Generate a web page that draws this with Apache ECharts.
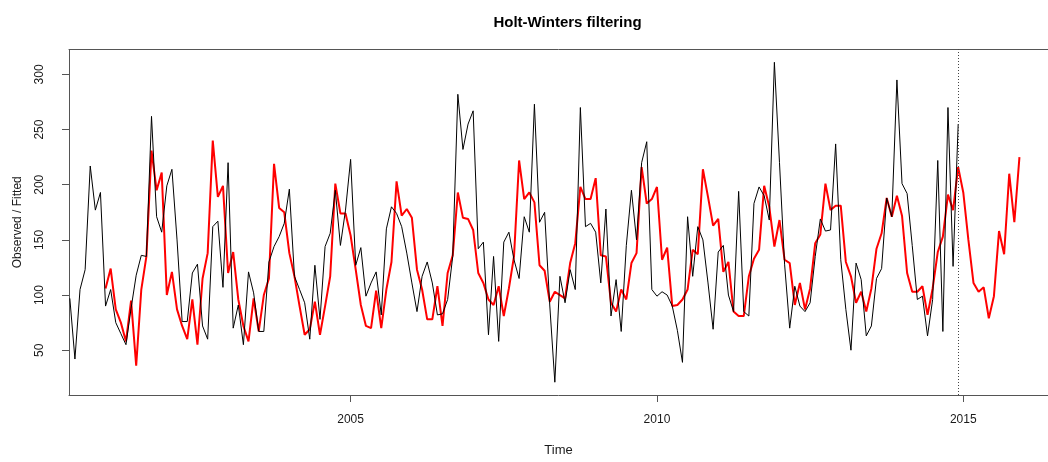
<!DOCTYPE html>
<html>
<head>
<meta charset="utf-8">
<script src="https://cdn.jsdelivr.net/npm/echarts@6/dist/echarts.min.js"></script>
<style>
html,body{margin:0;padding:0;background:#fff;}
#chart{width:1048px;height:462px;}
</style>
</head>
<body>
<div id="chart"></div>
<script>
// Observed series (monthly), first visible month June 2000 .. Dec 2014
const observedStart = [2000, 6];
const observed = [
  97,42,105,123,217,177,193,
  90,105,75,65,55,88,118,136,135,262,171,157,
  199,214,150,76,76,120,128,72,60,162,167,107,
  220,70,91,55,121,102,67,67,130,144,153,165,
  196,117,105,93,60,127,78,144,156,195,145,177,
  223,127,143,99,111,121,82,160,180,174,162,138,
  111,85,117,130,111,82,83,96,135,282,232,255,
  267,142,148,64,135,58,148,157,132,115,171,157,
  273,166,175,91,21,117,93,123,105,270,162,165,
  157,111,178,81,114,67,145,195,150,220,239,105,
  99,103,100,90,68,39,171,117,162,150,111,69,
  139,145,100,85,194,85,81,183,198,190,168,311,
  220,128,70,108,90,85,93,135,169,158,159,237,
  132,87,50,129,114,63,72,115,124,188,171,295,
  201,192,145,96,99,63,96,222,67,270,126,255
];
// Fitted values, Jan 2001 .. Dec 2014
const fittedStart = [2001, 1];
const fitted = [
  106,124,87,75,58,95,36,105,135,231,195,211,
  100,121,87,72,60,96,55,115,138,240,189,199,
  120,139,96,72,58,97,67,100,115,219,179,175,
  138,117,90,64,69,94,64,90,117,201,174,174,
  154,123,91,72,70,104,70,105,130,203,172,178,
  170,123,105,78,78,108,72,120,136,193,170,169,
  159,120,111,96,91,108,81,106,135,222,187,193,
  184,127,122,94,103,100,97,129,147,198,187,187,
  206,136,135,93,85,105,96,129,138,216,183,187,
  198,132,143,90,91,96,105,141,137,214,189,163,
  169,121,130,85,81,81,117,133,141,199,180,144,
  168,132,129,91,111,87,106,147,155,201,177,181,
  181,130,117,93,103,85,106,142,156,188,171,190,
  172,120,103,103,108,82,106,139,153,191,177,216
];
// Predicted values, Jan 2015 .. Dec 2015
const predicted = [193,150,111,103,107,79,99,158,137,210,166,225];

const xTicks = [2005, 2010, 2015];
const yTicks = [50, 100, 150, 200, 250, 300];

function toPairs(start, values) {
  return values.map((v, k) => [start[0] + (start[1] - 1 + k) / 12, v]);
}
const obsPairs = toPairs(observedStart, observed);
const redPairs = toPairs(fittedStart, fitted.concat(predicted));
const lastObsTime = obsPairs[obsPairs.length - 1][0];

// x range as R computes it: range of fitted+predicted, padded 4%.
// The original picture is cropped on the right, so only part of that range shows.
const xa = redPairs[0][0], xb = redPairs[redPairs.length - 1][0];
const xPad = (xb - xa) * 0.04;
const xMin = xa - xPad, xMaxFull = xb + xPad;
const plotLeft = 69, plotFullWidth = 987, chartWidth = 1048;
const visibleWidth = chartWidth - plotLeft;
const xMax = xMin + (xMaxFull - xMin) * visibleWidth / plotFullWidth;

const allY = observed.concat(fitted, predicted);
const ya = Math.min(...allY), yb = Math.max(...allY);
const yPad = (yb - ya) * 0.04;

const chart = echarts.init(document.getElementById('chart'), null, {renderer: 'canvas'});
const txt = '#1a1a1a';
const frame = '#555';
chart.setOption({
  animation: false,
  backgroundColor: '#fff',
  title: {
    text: 'Holt-Winters filtering',
    left: 562.5,
    textAlign: 'center',
    top: 10,
    textStyle: {fontFamily: 'Liberation Sans', fontSize: 15, fontWeight: 'bold', color: '#000'}
  },
  grid: {
    left: plotLeft, top: 49.5, width: visibleWidth, height: 349,
    show: false, containLabel: false
  },
  xAxis: [{
    type: 'value',
    min: xMin, max: xMax,
    position: 'bottom',
    name: 'Time', nameLocation: 'middle', nameGap: 49,
    nameTextStyle: {fontFamily: 'Liberation Sans', fontSize: 13, color: txt},
    axisLine: {show: true, onZero: false, lineStyle: {color: frame, width: 1}},
    splitLine: {show: false},
    axisTick: {show: true, length: 7, customValues: xTicks, lineStyle: {color: frame}},
    axisLabel: {customValues: xTicks, margin: 19, fontFamily: 'Liberation Sans', fontSize: 12, color: txt,
      formatter: v => String(v)}
  }, {
    type: 'value',
    min: xMin, max: xMax,
    position: 'top',
    axisLine: {show: true, onZero: false, lineStyle: {color: frame, width: 1}},
    axisTick: {show: false}, axisLabel: {show: false}, splitLine: {show: false}
  }],
  yAxis: {
    type: 'value',
    min: ya - yPad, max: yb + yPad,
    name: 'Observed / Fitted', nameLocation: 'middle', nameGap: 45, nameRotate: 90,
    nameTextStyle: {fontFamily: 'Liberation Sans', fontSize: 12, color: txt},
    axisLine: {show: true, onZero: false, lineStyle: {color: frame, width: 1}},
    splitLine: {show: false},
    axisTick: {show: true, length: 7, customValues: yTicks, lineStyle: {color: frame}},
    axisLabel: {customValues: yTicks, rotate: 90, margin: 29, align: 'center', verticalAlign: 'middle',
      fontFamily: 'Liberation Sans', fontSize: 12, color: txt, formatter: v => String(v)}
  },
  series: [
    {
      name: 'Fitted', type: 'line', data: redPairs, showSymbol: false, symbol: 'none',
      lineStyle: {color: '#ff0000', width: 2}, clip: true, z: 2
    },
    {
      name: 'Observed', type: 'line', data: obsPairs, showSymbol: false, symbol: 'none',
      lineStyle: {color: '#000000', width: 1}, clip: true, z: 3,
      markLine: {
        silent: true, symbol: ['none', 'none'], label: {show: false},
        lineStyle: {color: '#444', type: [1, 2], width: 1},
        data: [{xAxis: lastObsTime}]
      }
    }
  ]
});
</script>
</body>
</html>
